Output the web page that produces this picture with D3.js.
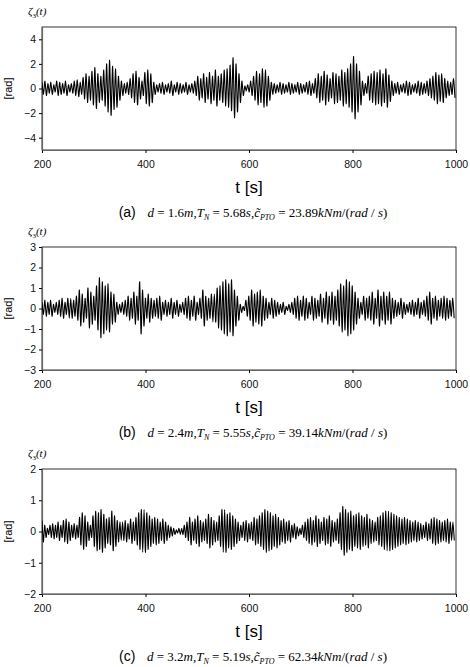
<!DOCTYPE html><html><head><meta charset="utf-8">
<script src="https://cdn.jsdelivr.net/npm/d3@7"></script>
<style>body{margin:0;background:#fff}</style></head><body>
<script>
const xTicks=[200,400,600,800,1000];
const yTicksA=[-4,-2,0,2,4], yTicksB=[-3,-2,-1,0,1,2,3], yTicksC=[-2,-1,0,1,2];
const periods=[5.68,5.55,5.19];
const ampA=[.5,.6,.4,.5,.3,.6,.5,.4,.6,.3, .4,.6,.7,.5,.9,1.2,1.0,1.4,1.7,1.2, 1.0,1.5,2.0,2.3,1.8,1.6,1.0,.6,.4,.5,
 .8,1.2,1.4,.9,.6,1.3,1.5,1.2,.5,.3, .4,.5,.3,.4,.6,.3,.5,.4,.3,.5, .3,.4,.6,1.0,.8,1.2,.9,1.3,1.0,1.5,
 1.0,1.2,1.5,1.6,1.9,2.5,2.0,1.2,.6,.2, .3,.6,1.0,1.4,1.2,1.6,1.5,1.0,.5,.4, .3,.5,.4,.3,.5,.4,.3,.5,.4,.3,
 .5,.6,.4,.8,1.2,1.0,1.4,1.1,.8,1.3, 1.2,1.0,1.5,1.3,1.6,2.0,2.6,2.0,1.4,.6, .4,1.0,1.2,1.4,1.3,1.5,1.2,1.6,1.1,.6,
 .4,.5,.3,.4,.6,.5,.3,.4,.6,.5, .4,.6,.8,1.0,1.3,1.1,1.2,.8,.6,.5,.8];
const ampB=[.3,.4,.3,.4,.2,.3,.4,.5,.3,.5, .5,.4,.6,.9,.7,.5,1.0,.8,.6,1.1, 1.5,1.3,1.1,1.2,.8,.7,.3,.2,.3,.4,
 .6,.5,.8,.6,1.3,.9,.5,.7,.5,.4, .5,.6,.3,.4,.3,.5,.3,.4,.2,.3, .5,.6,.4,.6,.3,.5,.9,.6,.5,.7,
 .7,1.0,1.1,1.3,1.4,1.2,1.4,.9,.6,.2, .1,.4,.6,.9,.7,.8,.9,.6,.5,.3, .5,.4,.3,.2,.3,.1,.2,.3,.5,.6,
 .4,.6,.5,.3,.6,.5,.4,.7,.5,.8, .6,.8,.6,.9,1.2,1.1,1.4,1.3,1.1,.8, .5,.3,.6,.5,.6,.8,.5,.9,.6,.8,
 .6,.8,.5,.4,.3,.5,.3,.2,.3,.4, .3,.5,.3,.4,.6,.8,.5,.6,.4,.5,.6,.5,.4,.5];
const ampC=[.35,.2,.1,.2,.25,.2,.3,.2,.35,.4, .3,.2,.25,.2,.45,.6,.5,.3,.2,.5, .65,.6,.7,.55,.4,.45,.65,.5,.35,.3,
 .3,.35,.25,.4,.3,.45,.6,.7,.7,.6, .5,.4,.45,.4,.3,.4,.3,.2,.15,.1, .05,.1,.1,.2,.3,.45,.3,.4,.5,.35,
 .3,.4,.55,.45,.35,.3,.5,.7,.7,.55, .6,.5,.4,.3,.2,.3,.35,.25,.3,.45, .4,.5,.6,.7,.65,.6,.5,.55,.45,.35,
 .4,.3,.35,.2,.25,.15,.1,.2,.3,.4, .45,.35,.5,.4,.3,.45,.4,.5,.35,.3, .4,.6,.8,.7,.6,.65,.5,.55,.6,.5,
 .45,.55,.4,.35,.3,.45,.5,.6,.65,.65, .6,.55,.5,.45,.4,.45,.4,.35,.3,.35, .3,.25,.2,.3,.25,.4,.45,.4,.35,.3,.35,.4,.3,.3];
const captions=[["(a)","1.6","5.68","23.89"],["(b)","2.4","5.55","39.14"],["(c)","3.2","5.19","62.34"]];

const W=470,H=667;
const svg=d3.select("body").append("svg").attr("width",W).attr("height",H);
const panels=[
 {amp:ampA,T:periods[0],yt:yTicksA,dom:[-5,5],top:27,bot:150,cap:captions[0]},
 {amp:ampB,T:periods[1],yt:yTicksB,dom:[-3,3],top:247,bot:370,cap:captions[1]},
 {amp:ampC,T:periods[2],yt:yTicksC,dom:[-2,2],top:469,bot:594,cap:captions[2]}];
const L=42,R=456;
panels.forEach((p,k)=>{
 const x=d3.scaleLinear().domain([200,1000]).range([L,R]);
 const y=d3.scaleLinear().domain(p.dom).range([p.bot,p.top]);
 const g=svg.append("g");
 g.append("rect").attr("x",L).attr("y",p.top).attr("width",R-L).attr("height",p.bot-p.top).attr("fill","none").attr("stroke","#000").attr("stroke-width",0.8);
 const xa=g.append("g").attr("transform",`translate(0,${p.bot})`).call(d3.axisBottom(x).tickValues(xTicks).tickFormat(d3.format("d")).tickSize(3).tickSizeOuter(0));
 const ya=g.append("g").attr("transform",`translate(${L},0)`).call(d3.axisLeft(y).tickValues(p.yt).tickFormat(d3.format("d")).tickSize(3).tickSizeOuter(0));
 [xa,ya].forEach(a=>{a.selectAll("text").attr("font-family","Liberation Sans, Arial").attr("font-size",10.5).attr("fill","#111");a.select(".domain").attr("stroke","#666").attr("stroke-width",1.2);});
 xa.selectAll("text").attr("dy","1.1em");
 const pts=[];
 p.amp.forEach((a,i)=>{pts.push([200+i*p.T,a]);pts.push([200+(i+0.5)*p.T,-a*0.95]);});
 const cid="clip"+k;
 svg.append("clipPath").attr("id",cid).append("rect").attr("x",L).attr("y",p.top).attr("width",R-L).attr("height",p.bot-p.top);
 g.append("path").attr("clip-path",`url(#${cid})`).attr("d",d3.line().x(d=>x(d[0])).y(d=>y(d[1])).curve(d3.curveCardinal.tension(0.3))(pts))
  .attr("fill","none").attr("stroke","#000").attr("stroke-width",1.1);
 g.append("text").attr("x",12).attr("y",(p.top+p.bot)/2).attr("transform",`rotate(-90,12,${(p.top+p.bot)/2})`).attr("text-anchor","middle")
  .attr("font-family","Liberation Sans, Arial").attr("font-size",11).text("[rad]");
 const z=g.append("text").attr("x",28).attr("y",p.top-12).attr("font-family","Liberation Serif").attr("font-style","italic").attr("font-size",11);
 z.append("tspan").text("ζ");z.append("tspan").attr("font-size",7).attr("dy",3).attr("font-style","normal").text("3");z.append("tspan").attr("dy",-3).text("(t)");
 g.append("text").attr("x",(L+R)/2).attr("y",p.bot+43).attr("text-anchor","middle").attr("font-family","Liberation Sans, Arial").attr("font-size",17).text("t [s]");
 const c=p.cap;
 const ct=g.append("text").attr("x",(L+R)/2+4).attr("y",p.bot+67).attr("text-anchor","middle").attr("font-size",13).attr("font-family","Liberation Serif");
 ct.append("tspan").attr("font-family","Liberation Sans, Arial").attr("font-size",14).text(c[0]+"\u00a0\u00a0\u00a0");
 ct.append("tspan").attr("font-style","italic").text("d");
 ct.append("tspan").text(" = "+c[1]);
 ct.append("tspan").attr("font-style","italic").text("m");
 ct.append("tspan").text(",");
 ct.append("tspan").attr("font-style","italic").text("T");
 ct.append("tspan").attr("font-style","italic").attr("font-size",8).attr("dy",3).text("N");
 ct.append("tspan").attr("dy",-3).text(" = "+c[2]);
 ct.append("tspan").attr("font-style","italic").text("s");
 ct.append("tspan").text(",");
 ct.append("tspan").attr("font-style","italic").text("c̃");
 ct.append("tspan").attr("font-style","italic").attr("font-size",8).attr("dy",3).text("PTO");
 ct.append("tspan").attr("dy",-3).text(" = "+c[3]);
 ct.append("tspan").attr("font-style","italic").text("kNm");
 ct.append("tspan").text("/(");
 ct.append("tspan").attr("font-style","italic").text("rad");
 ct.append("tspan").text(" / ");
 ct.append("tspan").attr("font-style","italic").text("s");
 ct.append("tspan").text(")");
});
</script></body></html>
